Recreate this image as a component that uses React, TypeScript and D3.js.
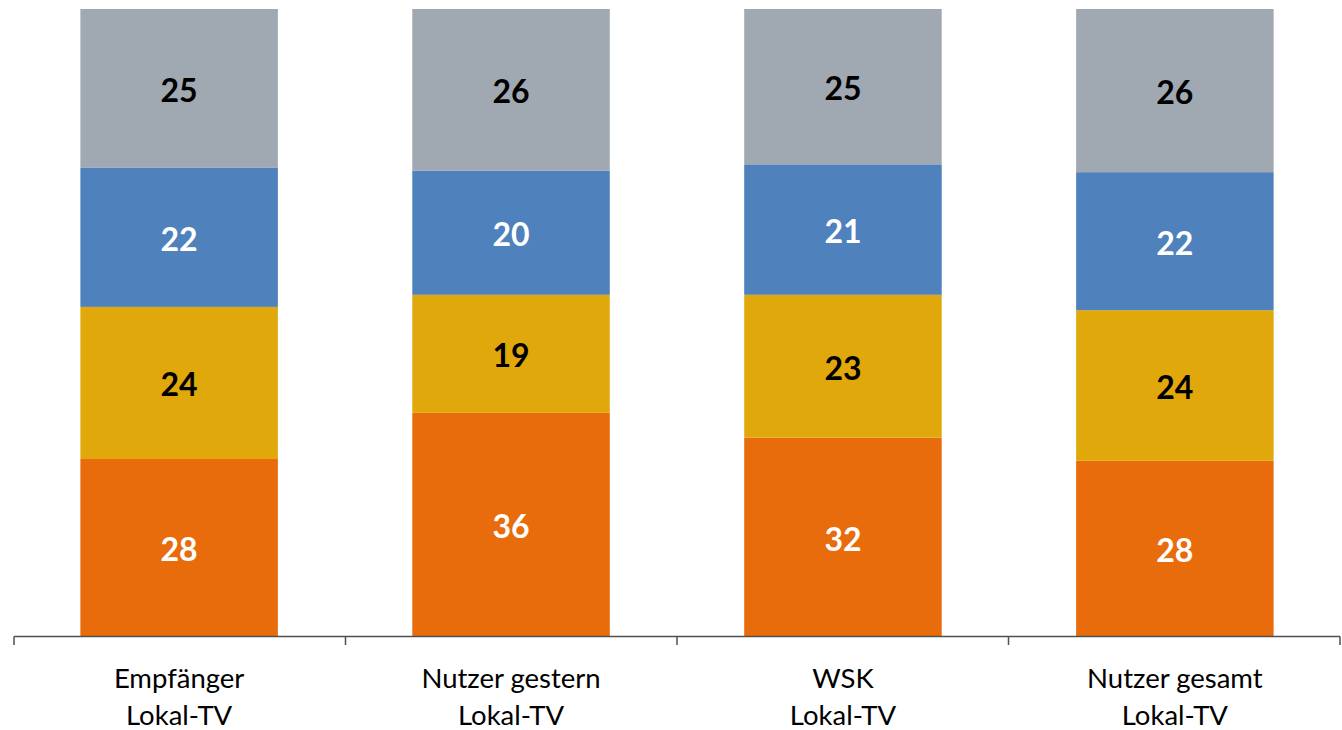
import React from "react";
import * as d3 from "d3";

const categories = ["Empfänger|Lokal-TV", "Nutzer gestern|Lokal-TV", "WSK|Lokal-TV", "Nutzer gesamt|Lokal-TV"];
const seriesKeys = ["s1", "s2", "s3", "s4"];
const s1 = [28, 36, 32, 28];
const s2 = [24, 19, 23, 24];
const s3 = [22, 20, 21, 22];
const s4 = [25, 26, 25, 26];
const colors = ["#E96C0C", "#E0A80A", "#4F81BD", "#A0A8B2"];
const labelColors = ["#FFFFFF", "#000000", "#FFFFFF", "#000000"];

const W = 1342;
const H = 730;

export default function App() {
  const rows = categories.map((c, i) => ({ cat: c, s1: s1[i], s2: s2[i], s3: s3[i], s4: s4[i] }));
  const stack = d3.stack<any>().keys(seriesKeys).offset(d3.stackOffsetExpand);
  const layers = stack(rows);

  const x = d3.scaleBand().domain(categories).range([14, 1340]).paddingInner(0.405).paddingOuter(0.2);
  const y = d3.scaleLinear().domain([0, 1]).range([636.5, 9]);
  const x0 = x.range()[0];
  const tickXs = d3.range(categories.length + 1).map((i) => x0 + i * ((1340 - 14) / categories.length));

  return (
    <svg width={W} height={H} style={{ position: "absolute", left: 0, top: 0, background: "#fff" }}>
      {layers.map((layer, li) => (
        <g key={layer.key}>
          {layer.map((d, i) => {
            const bx = x(categories[i])!;
            const y0 = y(d[0]);
            const y1 = y(d[1]);
            return (
              <g key={i}>
                <rect x={bx} y={y1} width={x.bandwidth()} height={y0 - y1} fill={colors[li]} />
                <text
                  x={bx + x.bandwidth() / 2}
                  y={(y0 + y1) / 2}
                  dy="0.42em"
                  textAnchor="middle"
                  fontFamily="Lato, sans-serif"
                  fontWeight="bold"
                  fontSize={32}
                  fill={labelColors[li]}
                >
                  {(d.data as any)[layer.key]}
                </text>
              </g>
            );
          })}
        </g>
      ))}
      <line x1={14} x2={1340} y1={636.5} y2={636.5} stroke="#505050" strokeWidth={1.5} />
      {tickXs.map((tx, i) => (
        <line key={i} x1={tx} x2={tx} y1={636.5} y2={645} stroke="#505050" strokeWidth={1.5} />
      ))}
      {categories.map((c) => {
        const lines = c.split("|");
        return (
          <text
            key={c}
            x={x(c)! + x.bandwidth() / 2}
            textAnchor="middle"
            fontFamily="Lato, sans-serif"
            fontSize={27.5}
            fill="#000"
          >
            {lines.map((l, j) => (
              <tspan key={j} x={x(c)! + x.bandwidth() / 2} y={688 + j * 37}>
                {l}
              </tspan>
            ))}
          </text>
        );
      })}
    </svg>
  );
}
